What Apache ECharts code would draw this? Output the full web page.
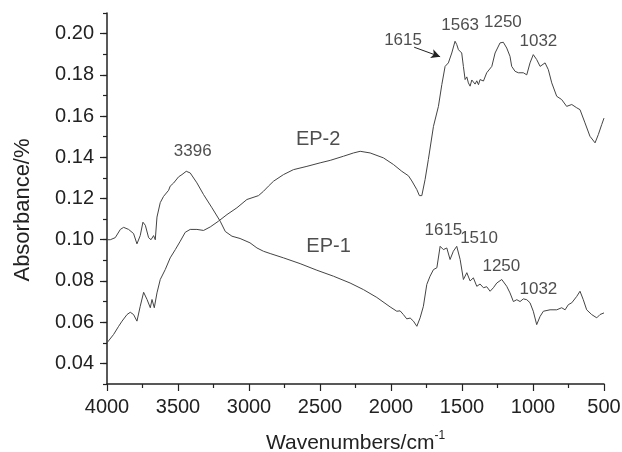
<!DOCTYPE html>
<html>
<head>
<meta charset="utf-8">
<script src="https://cdn.jsdelivr.net/npm/echarts@6/dist/echarts.min.js"></script>
<style>html,body{margin:0;padding:0;background:#fff;}#c{width:622px;height:452px;}</style>
</head>
<body>
<div id="c"></div>
<script>
// EP-1 spectrum
var ep1Wavenumber = [4000,3977,3942,3906,3883,3848,3813,3789,3766,3747,3730,3707,3690,3672,3660,3648,3625,3602,3566,3555,3531,3496,3472,3442,3414,3367,3320,3261,3203,3167,3120,3063,2993,2944,2898,2851,2757,2640,2522,2405,2288,2194,2100,2006,1959,1936,1913,1889,1865,1842,1818,1795,1772,1748,1725,1701,1677,1654,1631,1607,1584,1561,1537,1513,1490,1466,1443,1420,1396,1373,1349,1326,1302,1279,1255,1220,1185,1162,1138,1114,1091,1068,1044,1021,998,974,950,927,880,833,798,774,751,727,692,669,646,622,587,551,528,500];
var ep1Absorbance = [0.100,0.100,0.101,0.105,0.106,0.105,0.103,0.098,0.102,0.1085,0.107,0.101,0.100,0.102,0.100,0.111,0.118,0.121,0.124,0.126,0.1275,0.1305,0.1316,0.1332,0.1324,0.1276,0.1219,0.1155,0.109,0.104,0.1017,0.1006,0.0985,0.096,0.0944,0.0933,0.0912,0.0884,0.0852,0.0823,0.079,0.0758,0.072,0.0674,0.0653,0.0655,0.0637,0.0616,0.062,0.0605,0.058,0.0621,0.0677,0.0783,0.0823,0.0855,0.0864,0.0968,0.0952,0.096,0.0904,0.0944,0.0968,0.0904,0.0807,0.084,0.080,0.0815,0.0774,0.0785,0.0767,0.0772,0.075,0.0767,0.079,0.0807,0.0774,0.0742,0.070,0.0709,0.070,0.0713,0.0709,0.0694,0.0653,0.0588,0.0628,0.0653,0.066,0.066,0.067,0.066,0.0685,0.0694,0.0725,0.075,0.0709,0.066,0.0637,0.0621,0.0637,0.0645];
// EP-2 spectrum
var ep2Wavenumber = [4000,3954,3918,3894,3859,3836,3813,3789,3766,3742,3718,3695,3683,3667,3648,3625,3590,3555,3519,3484,3449,3414,3367,3320,3273,3215,3155,3085,3015,2933,2898,2863,2827,2757,2687,2592,2499,2428,2335,2264,2217,2147,2053,1983,1924,1877,1853,1818,1800,1783,1760,1737,1701,1666,1642,1619,1596,1572,1549,1537,1525,1513,1502,1490,1478,1466,1455,1443,1431,1420,1408,1396,1384,1373,1349,1326,1290,1267,1232,1209,1185,1162,1150,1126,1103,1068,1044,1021,998,974,950,915,892,868,833,798,763,727,692,669,634,599,563,540,516,500];
var ep2Absorbance = [0.050,0.054,0.058,0.0605,0.0637,0.0648,0.0637,0.0605,0.0677,0.0745,0.071,0.067,0.071,0.067,0.0742,0.0807,0.0855,0.0912,0.0952,0.0993,0.1036,0.105,0.105,0.1045,0.1062,0.109,0.1122,0.1155,0.1195,0.1214,0.1235,0.126,0.1284,0.1316,0.134,0.1356,0.1373,0.1385,0.1405,0.1421,0.1429,0.1421,0.1397,0.1365,0.1332,0.131,0.1285,0.1243,0.1214,0.1214,0.1292,0.1389,0.155,0.1647,0.1753,0.1841,0.1858,0.1906,0.1963,0.1947,0.1922,0.193,0.1906,0.184,0.1777,0.179,0.1761,0.1745,0.1775,0.1777,0.1755,0.1771,0.1752,0.1777,0.177,0.181,0.1841,0.1906,0.1955,0.1958,0.193,0.189,0.1841,0.1817,0.181,0.181,0.180,0.1858,0.1898,0.1874,0.1841,0.1858,0.1825,0.1761,0.1696,0.168,0.1647,0.1656,0.164,0.1631,0.1567,0.1502,0.147,0.151,0.1559,0.159];
// Axis tick labels
var xTicks = [4000,3500,3000,2500,2000,1500,1000,500];
var yTicks = [0.04,0.06,0.08,0.10,0.12,0.14,0.16,0.18,0.20];
// Peak annotations: [wavenumber, absorbance, text]
var annotations = [
  [3396, 0.1428, '3396'],
  [1915, 0.1966, '1615'],
  [1513, 0.2041, '1563'],
  [1212, 0.2053, '1250'],
  [962, 0.1961, '1032'],
  [1631, 0.1045, '1615'],
  [1380, 0.1009, '1510'],
  [1223, 0.0870, '1250'],
  [962, 0.0757, '1032']
];
var seriesLabels = [[2513, 0.1487, 'EP-2'], [2440, 0.0965, 'EP-1']];
var arrow = [[1837, 0.1934], [1654, 0.1888]];

function zip(a, b) { return a.map(function (v, i) { return [v, b[i]]; }); }

var FONT = 'Liberation Sans';
var AX = '#222';
var chart = echarts.init(document.getElementById('c'), null, {renderer: 'canvas'});
chart.setOption({
  backgroundColor: '#fff',
  animation: false,
  grid: {left: 107, right: 18, top: 13, bottom: 68, containLabel: false, outerBoundsMode: 'none'},
  xAxis: {
    type: 'value', inverse: true, min: 500, max: 4000, interval: 500,
    axisLine: {lineStyle: {color: AX, width: 1.5}},
    axisTick: {length: 7, customValues: xTicks, lineStyle: {color: AX, width: 1.2}},
    minorTick: {show: true, splitNumber: 2, length: 4, lineStyle: {color: AX, width: 1.2}},
    splitLine: {show: false},
    axisLabel: {customValues: xTicks, color: '#222', fontFamily: FONT, fontSize: 20, margin: 13,
      formatter: function (v) { return String(v); }},
    name: '{a|Wavenumbers/cm}{b|-1}',
    nameLocation: 'middle', nameGap: 46,
    nameTextStyle: {
      rich: {
        a: {fontFamily: FONT, fontSize: 21, color: '#222', lineHeight: 26},
        b: {fontFamily: FONT, fontSize: 12, color: '#222', verticalAlign: 'top', lineHeight: 26, padding: [0, 0, 10, 0]}
      }
    }
  },
  yAxis: [{
    type: 'value', min: 0.03, max: 0.21, interval: 0.01,
    axisLine: {lineStyle: {color: AX, width: 1.5}},
    axisTick: {length: 7, customValues: yTicks, lineStyle: {color: AX, width: 1.2}},
    splitLine: {show: false},
    axisLabel: {customValues: yTicks, color: '#222', fontFamily: FONT, fontSize: 20, margin: 13,
      formatter: function (v) { return v.toFixed(2); }},
    name: 'Absorbance/%', nameLocation: 'middle', nameGap: 73,
    nameTextStyle: {fontFamily: FONT, fontSize: 22, color: '#222', padding: [0, 23, 0, 0]}
  }, {
    type: 'value', min: 0.03, max: 0.21, interval: 0.01, position: 'left',
    axisLine: {show: false},
    axisTick: {show: true, length: 4, lineStyle: {color: AX, width: 1.2}},
    axisLabel: {show: false}, splitLine: {show: false}
  }],
  series: [
    {type: 'line', name: 'EP-1', data: zip(ep1Wavenumber, ep1Absorbance), showSymbol: false, symbol: 'none',
      lineStyle: {color: '#444', width: 1}},
    {type: 'line', name: 'EP-2', data: zip(ep2Wavenumber, ep2Absorbance), showSymbol: false, symbol: 'none',
      lineStyle: {color: '#444', width: 1},
      markLine: {silent: true, symbol: ['none', 'arrow'], symbolSize: [7, 9], label: {show: false},
        lineStyle: {color: '#222', width: 1, type: 'solid'},
        data: [[{coord: arrow[0]}, {coord: arrow[1]}]]}},
    {type: 'scatter', data: annotations, symbolSize: 1, itemStyle: {color: 'rgba(0,0,0,0)'},
      label: {show: true, position: 'inside', color: '#222', fontFamily: FONT, fontSize: 17,
        formatter: function (p) { return p.data[2]; }}},
    {type: 'scatter', data: seriesLabels, symbolSize: 1, itemStyle: {color: 'rgba(0,0,0,0)'},
      label: {show: true, position: 'inside', color: '#222', fontFamily: FONT, fontSize: 20,
        formatter: function (p) { return p.data[2]; }}}
  ]
});
</script>
</body>
</html>
